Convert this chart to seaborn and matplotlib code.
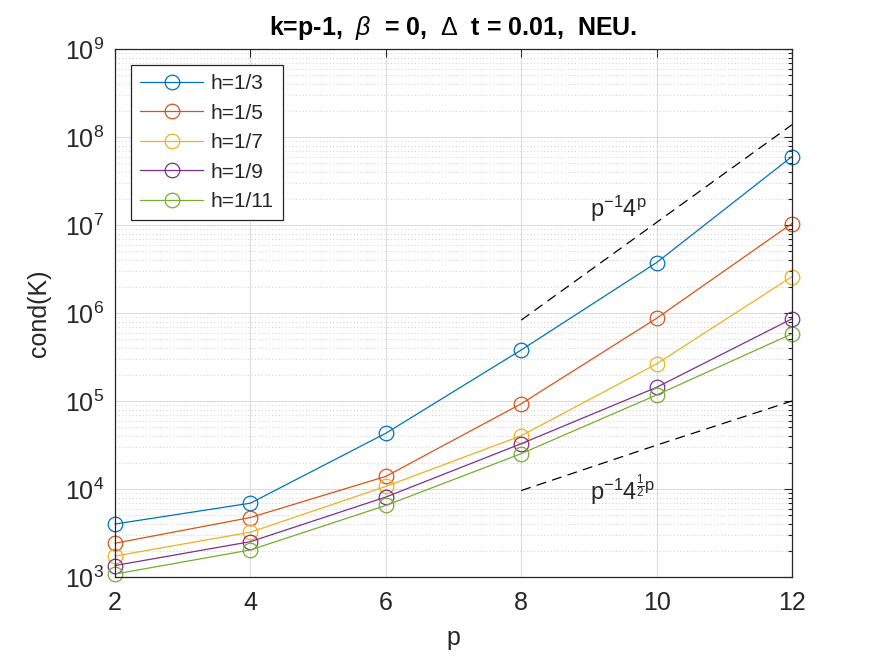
import numpy as np
import pandas as pd
import matplotlib
matplotlib.use("Agg")
import matplotlib.pyplot as plt
import seaborn as sns

p_vals = [2, 4, 6, 8, 10, 12]
labels = ["h=1/3", "h=1/5", "h=1/7", "h=1/9", "h=1/11"]
cond_h3 = [4.0e3, 6.9e3, 4.3e4, 3.8e5, 3.74e6, 6.0e7]
cond_h5 = [2.42e3, 4.74e3, 1.39e4, 9.3e4, 8.7e5, 1.04e7]
cond_h7 = [1.73e3, 3.23e3, 1.07e4, 4.03e4, 2.64e5, 2.59e6]
cond_h9 = [1.35e3, 2.52e3, 8.1e3, 3.27e4, 1.43e5, 8.6e5]
cond_h11 = [1.08e3, 2.03e3, 6.5e3, 2.52e4, 1.17e5, 5.8e5]

ref_p = [8, 10, 12]
ref_upper = [8.3e5, 1.07e7, 1.38e8]
ref_lower = [9.6e3, 3.15e4, 1.0e5]

colors = ["#0072BD", "#D95319", "#EDB120", "#7E2F8E", "#77AC30"]

sns.set_theme(style="white")
plt.rcParams["font.family"] = ["Liberation Sans", "DejaVu Sans"]
plt.rcParams["mathtext.fontset"] = "custom"
plt.rcParams["mathtext.rm"] = "Liberation Sans"
plt.rcParams["mathtext.it"] = "Liberation Sans:italic"
plt.rcParams["mathtext.bf"] = "Liberation Sans:bold"
plt.rcParams["mathtext.default"] = "regular"

fig = plt.figure(figsize=(8.75, 6.56), dpi=100)
ax = fig.add_axes([115/875, 1-577/656, (792-115)/875, (577-49)/656])

series = [cond_h3, cond_h5, cond_h7, cond_h9, cond_h11]
for lab, vals, c in zip(labels, series, colors):
    df = pd.DataFrame({"p": p_vals, "cond": vals})
    sns.lineplot(data=df, x="p", y="cond", ax=ax, color=c, lw=0.9,
                 marker="o", markersize=10.5, markerfacecolor="none",
                 markeredgecolor=c, markeredgewidth=0.9, label=lab, clip_on=False)

sns.lineplot(x=ref_p, y=ref_upper, ax=ax, color="black", lw=0.9, label="_nolegend_")
sns.lineplot(x=ref_p, y=ref_lower, ax=ax, color="black", lw=0.9, label="_nolegend_")
ax.lines[-1].set_dashes((8, 5))
ax.lines[-2].set_dashes((8, 5))

ax.set_yscale("log")
ax.set_xlim(2, 12)
ax.set_ylim(1e3, 1e9)
ax.set_xticks([2, 4, 6, 8, 10, 12])
ax.set_yticks([1e3, 1e4, 1e5, 1e6, 1e7, 1e8, 1e9])
ax.yaxis.set_minor_locator(matplotlib.ticker.LogLocator(base=10, subs=np.arange(2, 10), numticks=20))
ax.yaxis.set_minor_formatter(matplotlib.ticker.NullFormatter())

ax.grid(True, which="major", color="#dcdcdc", lw=0.8, linestyle="-")
ax.grid(True, which="minor", axis="y", color="#cccccc", lw=0.7, linestyle=(0, (1, 2.5)))
ax.set_axisbelow(True)

for s in ax.spines.values():
    s.set_color("#262626")
    s.set_linewidth(0.9)
ax.tick_params(which="both", direction="in", top=True, right=True, colors="#262626",
               labelcolor="#262626", labelsize=18, width=0.8)
ax.tick_params(which="major", length=6)
ax.tick_params(which="minor", length=3)
ax.tick_params(axis="x", pad=10)
ax.tick_params(axis="y", pad=8)

ax.set_xlabel("p", fontsize=18, color="#262626", labelpad=8)
ax.set_ylabel("cond(K)", fontsize=18, color="#262626", labelpad=10)
ax.set_title(r"k=p-1,  $\mathit{\beta}$  = 0,  $\mathrm{\Delta}$  t = 0.01,  NEU.",
             fontsize=18, fontweight="bold", color="black", pad=10)

ax.text(9.02, 1.23e7, r"$p^{-1}4^{p}$", fontsize=17, color="#262626", va="baseline")
ax.text(9.02, 7.5e3, r"$p^{-1}4^{\frac{1}{2}p}$", fontsize=17, color="#262626", va="baseline")

leg = ax.legend(loc="upper left", bbox_to_anchor=(16/677, 1-16/528), fontsize=15,
                frameon=True, fancybox=False, framealpha=1, edgecolor="#262626",
                borderpad=0.45, labelspacing=0.5, handlelength=3.0, handletextpad=0.35,
                borderaxespad=0)
leg.get_frame().set_linewidth(0.9)

fig.savefig("out.png", dpi=100, facecolor="white")
